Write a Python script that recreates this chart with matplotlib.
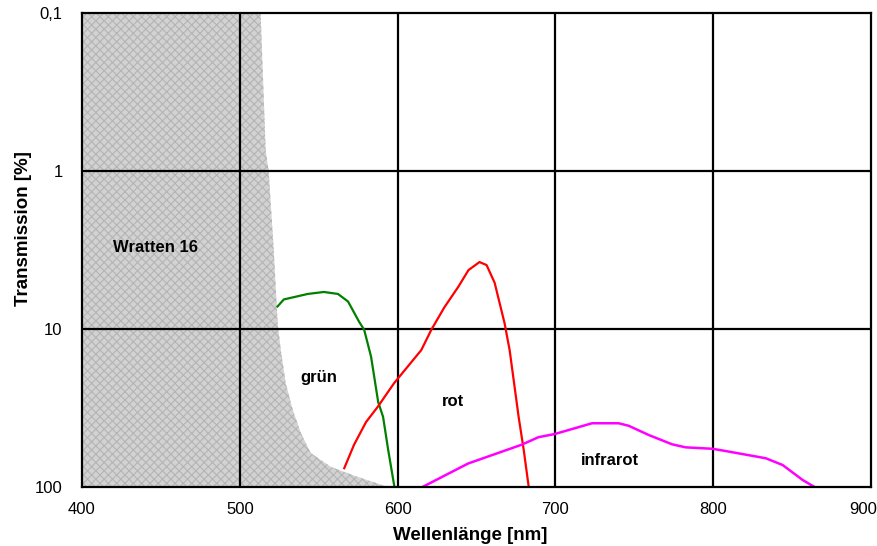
import matplotlib.pyplot as plt
import matplotlib.transforms as mtransforms
import numpy as np

plt.rcParams['font.family'] = ['Liberation Sans', 'DejaVu Sans']
plt.rcParams['hatch.linewidth'] = 0.8

# Kante des Wratten 16 (grau gefuellt links davon)
wratten_nm = [513.2, 516.4, 518.3, 521.5, 524.0, 526.0, 529.1, 533.6, 538.7, 545.0, 557.8, 575.0, 594.0]
wratten_T = [0.1, 0.74, 1.0, 3.16, 9.2, 13.6, 22, 32.6, 45.5, 61, 74.6, 86.5, 100]

# gruen
gruen_nm = [523.9, 527.9, 543.1, 553.3, 562.2, 568.6, 575.6, 578.8, 583.2, 587.7, 590.8, 594.0, 598.0]
gruen_T = [7.2, 6.5, 6.0, 5.83, 6.0, 6.7, 9.0, 10.1, 15, 29, 36, 58, 100]

# rot
rot_nm = [566.2, 572.4, 580.0, 587.5, 597.8, 615.0, 621.4, 629.6, 638.5, 644.9, 651.9, 656.4,
          661.5, 667.8, 671.0, 676.7, 679.9, 683.1]
rot_T = [76, 54, 38.8, 31, 22, 13.6, 10.1, 7.3, 5.4, 4.24, 3.77, 3.94, 5.1, 9.2, 13.6, 36, 58, 100]

# infrarot
ir_nm = [616.1, 644.7, 678.6, 689.2, 699.6, 723.2, 740.1, 746.5, 759.2, 774.0, 782.5, 799.5,
         807.9, 833.4, 844.0, 856.7, 864.2]
ir_T = [99.6, 71, 54, 48.4, 46.2, 39.5, 39.5, 41, 46.9, 53.7, 56.1, 57.3, 59.2, 65.8, 72.6, 90.3, 100]

x_ticks = [400, 500, 600, 700, 800, 900]
y_ticks = [0.1, 1, 10, 100]
y_labels = ['0,1', '1', '10', '100']

fig = plt.figure(figsize=(8.77, 5.46), dpi=100)
ax = fig.add_axes([82 / 877, 59 / 546, 789 / 877, 474 / 546])

ax.fill_betweenx(wratten_T, 400, wratten_nm, facecolor='#d2d2d2', edgecolor='#b4b4b4',
                 hatch='xxxx', lw=0, zorder=1)

# Gitter
for xv in x_ticks[1:-1]:
    ax.axvline(xv, color='black', lw=1.6, zorder=2)
for yv in y_ticks[1:-1]:
    ax.axhline(yv, color='black', lw=1.6, zorder=2)

ax.plot(gruen_nm, gruen_T, color='#008000', lw=1.6, zorder=3)
ax.plot(rot_nm, rot_T, color='#ff0000', lw=1.6, zorder=3)
ax.plot(ir_nm, ir_T, color='#ff00ff', lw=1.8, zorder=3)

ax.set_yscale('log')
ax.set_xlim(400, 900)
ax.set_ylim(100, 0.1)
ax.set_xticks(x_ticks)
ax.set_xticklabels([str(v) for v in x_ticks], fontsize=12)
ax.set_yticks(y_ticks)
ax.set_yticklabels(y_labels, fontsize=12)
ax.minorticks_off()
ax.tick_params(axis='x', length=0, pad=11)
ax.tick_params(axis='y', length=0, pad=14)

# letzte Beschriftung nach links schieben, damit sie ins Bild passt
last = ax.get_xticklabels()[-1]
last.set_horizontalalignment('right')
last.set_transform(last.get_transform() + mtransforms.ScaledTranslation(6 / 100, 0, fig.dpi_scale_trans))

for s in ax.spines.values():
    s.set_linewidth(1.6)
    s.set_zorder(4)

ax.text(446.5, 3.07, 'Wratten 16', fontsize=12, fontweight='bold', ha='center', va='center', zorder=5)
ax.text(550, 20.4, 'grün', fontsize=12, fontweight='bold', ha='center', va='center', zorder=5)
ax.text(635.4, 28.6, 'rot', fontsize=12, fontweight='bold', ha='center', va='center', zorder=5)
ax.text(734.6, 68.4, 'infrarot', fontsize=12, fontweight='bold', ha='center', va='center', zorder=5)

fig.text(470 / 877, 1 - 535 / 546, 'Wellenlänge [nm]', fontsize=13.5, fontweight='bold',
         ha='center', va='center')
fig.text(24 / 877, 1 - 229 / 546, 'Transmission [%]', fontsize=13.5, fontweight='bold',
         ha='center', va='center', rotation=90)

fig.savefig('out.png', dpi=100)
